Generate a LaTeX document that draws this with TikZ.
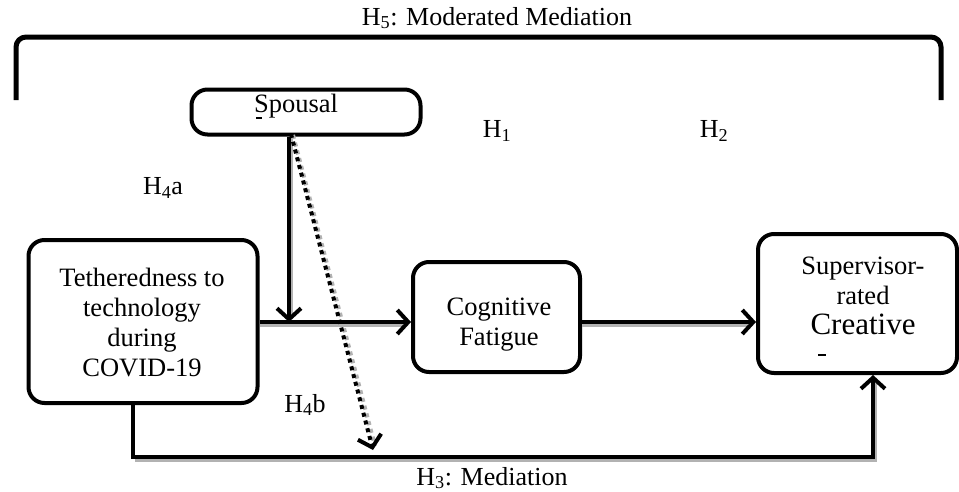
\documentclass[tikz,border=0pt]{standalone}
\usepackage{fontspec}
\setmainfont{Liberation Serif}
\usetikzlibrary{arrows.meta}
\begin{document}
\begin{tikzpicture}[x=1pt,y=-1pt,
 box/.style={draw, line width=4pt, rounded corners=16pt, inner sep=0pt},
 txt/.style={align=center, font=\fontsize{26.5}{30}\selectfont, inner sep=0pt},
 lab/.style={font=\fontsize{26}{30}\selectfont, inner sep=0pt},
 tip/.style={-{Straight Barb[length=11pt,width=24pt,line width=4pt]}},
 conn/.style={line width=4pt, tip},
 shad/.style={line width=4pt, draw=gray!60},
 dotconn/.style={line width=4pt, dash pattern=on 4pt off 4pt, tip}
]
\useasboundingbox (0,0) rectangle (959,491);
% bracket
\coordinate (brl) at (16,100);
\coordinate (brr) at (941,100);
\draw[line width=5pt, rounded corners=10pt] (brl) -- (16,37) -- (941,37) -- (brr);
\node[lab] (h5) at (497,18) {H\textsubscript{5}: Moderated Mediation};
% boxes
\node[box, minimum width=229pt, minimum height=45pt] (sp) at (306,112) {};
\node[txt] (spt) at (296,106) {Spousal};
\draw[line width=1.2pt] (256,118) -- (262,118);
\node[box, minimum width=229pt, minimum height=163pt] (teth) at (143,321.5) {};
\node[txt] (tetht) at (142,322) {Tetheredness to\\technology\\during\\COVID-19};
\node[box, minimum width=167pt, minimum height=110pt] (cog) at (496.5,317) {};
\node[txt] (cogt) at (499,325) {Cognitive\\Fatigue};
\node[box, minimum width=199pt, minimum height=139pt] (sup) at (857.5,303.5) {};
\node[txt] (supt) at (863,296) {Supervisor-\\rated\\{\fontsize{31}{35}\selectfont Creative}};
\draw[line width=1.2pt] (818,355) -- (826,355);
% coordinates
\coordinate (row) at (0,322);
\coordinate (modx) at (289,0);
\coordinate (dtop) at (291,134);
\coordinate (dend) at (373,450);
\coordinate (bl) at (133,457);
\coordinate (br) at (873,457);
% shadows
\draw[shad] ([shift={(0,3)}]teth.east |- row) -- ([shift={(-8,3)}]cog.west |- row);
\draw[shad] ([shift={(0,3)}]cog.east |- row) -- ([shift={(-8,3)}]sup.west |- row);
\draw[shad] ([shift={(2,0)}]modx |- sp.south) -- ([shift={(2,-6)}]modx |- row);
\draw[shad] ([shift={(2,3)}]bl) -- ([shift={(2,3)}]br) -- ([shift={(2,6)}]br |- sup.south);
\draw[shad, dash pattern=on 4pt off 4pt] ([shift={(2,1)}]dtop) -- ([shift={(2,-4)}]dend);
% connectors
\draw[conn] (teth.east |- row) -- (cog.west |- row);
\draw[conn] (cog.east |- row) -- (sup.west |- row);
\draw[conn] (modx |- sp.south) -- (modx |- row);
\draw[conn] (bl |- teth.south) -- (bl) -- (br) -- (br |- sup.south);
\draw[dotconn] (dtop) -- (dend);
% labels
\node[lab] (h1) at (497,131) {H\textsubscript{1}};
\node[lab] (h2) at (714,131) {H\textsubscript{2}};
\node[lab] (h4a) at (163,188) {H\textsubscript{4}a};
\node[lab] (h4b) at (305,405) {H\textsubscript{4}b};
\node[lab] (h3) at (492,478) {H\textsubscript{3}: Mediation};
\end{tikzpicture}
\end{document}
